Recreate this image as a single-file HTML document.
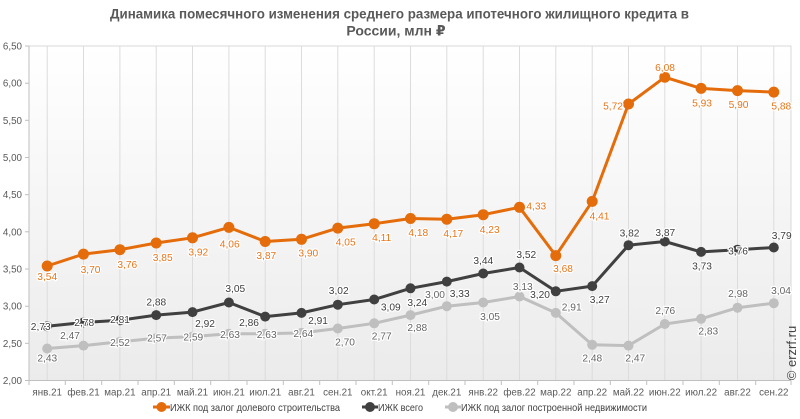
<!DOCTYPE html>
<html><head><meta charset="utf-8">
<style>
html,body{margin:0;padding:0;background:#fff;}
svg{display:block;font-family:"Liberation Sans","DejaVu Sans",sans-serif;}
.ax{font-size:9.8px;fill:#595959;}
.lo{font-size:10.2px;fill:#E8751A;text-anchor:middle;stroke:#fff;stroke-width:2.5px;paint-order:stroke;stroke-linejoin:round;}
.lb{font-size:10.2px;fill:#404040;text-anchor:middle;stroke:#fff;stroke-width:2.5px;paint-order:stroke;stroke-linejoin:round;}
.lg{font-size:10.2px;fill:#666;text-anchor:middle;stroke:#fff;stroke-width:2.5px;paint-order:stroke;stroke-linejoin:round;}
</style></head>
<body>
<svg width="800" height="419" viewBox="0 0 800 419" xmlns="http://www.w3.org/2000/svg">
<defs>
<linearGradient id="bg" x1="0" y1="0" x2="0" y2="1">
<stop offset="0" stop-color="#ffffff"/>
<stop offset="1" stop-color="#ebebeb"/>
</linearGradient>
</defs>
<rect x="0" y="0" width="800" height="419" fill="#fff"/>
<!-- title -->
<text x="399.5" y="18.5" font-size="14" font-weight="bold" fill="#595959" text-anchor="middle" textLength="579" lengthAdjust="spacingAndGlyphs">Динамика помесячного изменения среднего размера ипотечного жилищного кредита в</text>
<text x="396" y="35.5" font-size="14" font-weight="bold" fill="#595959" text-anchor="middle">России, млн ₽</text>

<!-- plot area -->
<rect x="29" y="46" width="762" height="334.5" fill="url(#bg)" stroke="#d9d9d9" stroke-width="1"/>
<!-- vertical grid -->
<g stroke="#dcdcdc" stroke-width="1">
<line x1="47.2" y1="46" x2="47.2" y2="380.5"/>
<line x1="83.5" y1="46" x2="83.5" y2="380.5"/>
<line x1="119.9" y1="46" x2="119.9" y2="380.5"/>
<line x1="156.2" y1="46" x2="156.2" y2="380.5"/>
<line x1="192.5" y1="46" x2="192.5" y2="380.5"/>
<line x1="228.9" y1="46" x2="228.9" y2="380.5"/>
<line x1="265.2" y1="46" x2="265.2" y2="380.5"/>
<line x1="301.5" y1="46" x2="301.5" y2="380.5"/>
<line x1="337.8" y1="46" x2="337.8" y2="380.5"/>
<line x1="374.2" y1="46" x2="374.2" y2="380.5"/>
<line x1="410.5" y1="46" x2="410.5" y2="380.5"/>
<line x1="446.8" y1="46" x2="446.8" y2="380.5"/>
<line x1="483.2" y1="46" x2="483.2" y2="380.5"/>
<line x1="519.5" y1="46" x2="519.5" y2="380.5"/>
<line x1="555.8" y1="46" x2="555.8" y2="380.5"/>
<line x1="592.2" y1="46" x2="592.2" y2="380.5"/>
<line x1="628.5" y1="46" x2="628.5" y2="380.5"/>
<line x1="664.8" y1="46" x2="664.8" y2="380.5"/>
<line x1="701.1" y1="46" x2="701.1" y2="380.5"/>
<line x1="737.5" y1="46" x2="737.5" y2="380.5"/>
<line x1="773.8" y1="46" x2="773.8" y2="380.5"/>
</g>
<!-- axes -->
<g stroke="#bfbfbf" stroke-width="1">
<line x1="29" y1="46" x2="29" y2="380.5"/>
<line x1="29" y1="380.5" x2="791" y2="380.5"/>
<line x1="25" y1="380.5" x2="29" y2="380.5"/>
<line x1="25" y1="343.3" x2="29" y2="343.3"/>
<line x1="25" y1="306.2" x2="29" y2="306.2"/>
<line x1="25" y1="269" x2="29" y2="269"/>
<line x1="25" y1="231.8" x2="29" y2="231.8"/>
<line x1="25" y1="194.7" x2="29" y2="194.7"/>
<line x1="25" y1="157.5" x2="29" y2="157.5"/>
<line x1="25" y1="120.3" x2="29" y2="120.3"/>
<line x1="25" y1="83.2" x2="29" y2="83.2"/>
<line x1="25" y1="46" x2="29" y2="46"/>
<line x1="29" y1="380.5" x2="29" y2="385"/>
<line x1="65.3" y1="380.5" x2="65.3" y2="385"/>
<line x1="101.7" y1="380.5" x2="101.7" y2="385"/>
<line x1="138" y1="380.5" x2="138" y2="385"/>
<line x1="174.3" y1="380.5" x2="174.3" y2="385"/>
<line x1="210.7" y1="380.5" x2="210.7" y2="385"/>
<line x1="247" y1="380.5" x2="247" y2="385"/>
<line x1="283.3" y1="380.5" x2="283.3" y2="385"/>
<line x1="319.7" y1="380.5" x2="319.7" y2="385"/>
<line x1="356" y1="380.5" x2="356" y2="385"/>
<line x1="392.3" y1="380.5" x2="392.3" y2="385"/>
<line x1="428.7" y1="380.5" x2="428.7" y2="385"/>
<line x1="465" y1="380.5" x2="465" y2="385"/>
<line x1="501.3" y1="380.5" x2="501.3" y2="385"/>
<line x1="537.7" y1="380.5" x2="537.7" y2="385"/>
<line x1="574" y1="380.5" x2="574" y2="385"/>
<line x1="610.3" y1="380.5" x2="610.3" y2="385"/>
<line x1="646.7" y1="380.5" x2="646.7" y2="385"/>
<line x1="683" y1="380.5" x2="683" y2="385"/>
<line x1="719.3" y1="380.5" x2="719.3" y2="385"/>
<line x1="755.7" y1="380.5" x2="755.7" y2="385"/>
<line x1="791" y1="380.5" x2="791" y2="385"/>
</g>
<!-- y labels -->
<g class="ax" text-anchor="end">
<text x="22" y="384">2,00</text>
<text x="22" y="346.8">2,50</text>
<text x="22" y="309.7">3,00</text>
<text x="22" y="272.5">3,50</text>
<text x="22" y="235.3">4,00</text>
<text x="22" y="198.2">4,50</text>
<text x="22" y="161">5,00</text>
<text x="22" y="123.8">5,50</text>
<text x="22" y="86.7">6,00</text>
<text x="22" y="49.5">6,50</text>
</g>
<!-- x labels -->
<g class="ax" text-anchor="middle">
<text x="47.2" y="395.5">янв.21</text>
<text x="83.5" y="395.5">фев.21</text>
<text x="119.9" y="395.5">мар.21</text>
<text x="156.2" y="395.5">апр.21</text>
<text x="192.5" y="395.5">май.21</text>
<text x="228.9" y="395.5">июн.21</text>
<text x="265.2" y="395.5">июл.21</text>
<text x="301.5" y="395.5">авг.21</text>
<text x="337.8" y="395.5">сен.21</text>
<text x="374.2" y="395.5">окт.21</text>
<text x="410.5" y="395.5">ноя.21</text>
<text x="446.8" y="395.5">дек.21</text>
<text x="483.2" y="395.5">янв.22</text>
<text x="519.5" y="395.5">фев.22</text>
<text x="555.8" y="395.5">мар.22</text>
<text x="592.2" y="395.5">апр.22</text>
<text x="628.5" y="395.5">май.22</text>
<text x="664.8" y="395.5">июн.22</text>
<text x="701.1" y="395.5">июл.22</text>
<text x="737.5" y="395.5">авг.22</text>
<text x="773.8" y="395.5">сен.22</text>
</g>

<!-- gray series -->
<polyline fill="none" stroke="#BFBFBF" stroke-width="3" stroke-linejoin="round" points="47.2,348.5 83.5,345.6 119.9,341.8 156.2,338.1 192.5,336.6 228.9,333.7 265.2,333.7 301.5,332.9 337.8,328.5 374.2,323.3 410.5,315.1 446.8,306.2 483.2,302.5 519.5,296.5 555.8,312.9 592.2,344.8 628.5,345.6 664.8,324 701.1,318.8 737.5,307.7 773.8,303.2"/>
<g fill="#BFBFBF">
<circle cx="47.2" cy="348.5" r="5"/><circle cx="83.5" cy="345.6" r="5"/><circle cx="119.9" cy="341.8" r="5"/><circle cx="156.2" cy="338.1" r="5"/><circle cx="192.5" cy="336.6" r="5"/><circle cx="228.9" cy="333.7" r="5"/><circle cx="265.2" cy="333.7" r="5"/><circle cx="301.5" cy="332.9" r="5"/><circle cx="337.8" cy="328.5" r="5"/><circle cx="374.2" cy="323.3" r="5"/><circle cx="410.5" cy="315.1" r="5"/><circle cx="446.8" cy="306.2" r="5"/><circle cx="483.2" cy="302.5" r="5"/><circle cx="519.5" cy="296.5" r="5"/><circle cx="555.8" cy="312.9" r="5"/><circle cx="592.2" cy="344.8" r="5"/><circle cx="628.5" cy="345.6" r="5"/><circle cx="664.8" cy="324" r="5"/><circle cx="701.1" cy="318.8" r="5"/><circle cx="737.5" cy="307.7" r="5"/><circle cx="773.8" cy="303.2" r="5"/>
</g>

<!-- black series -->
<polyline fill="none" stroke="#404040" stroke-width="3" stroke-linejoin="round" points="47.2,326.2 83.5,322.5 119.9,320.3 156.2,315.1 192.5,312.1 228.9,302.5 265.2,316.6 301.5,312.9 337.8,304.7 374.2,299.5 410.5,288.3 446.8,281.6 483.2,273.5 519.5,267.5 555.8,291.3 592.2,286.1 628.5,245.2 664.8,241.5 701.1,251.9 737.5,249.7 773.8,247.5"/>
<g fill="#404040">
<circle cx="47.2" cy="326.2" r="5"/><circle cx="83.5" cy="322.5" r="5"/><circle cx="119.9" cy="320.3" r="5"/><circle cx="156.2" cy="315.1" r="5"/><circle cx="192.5" cy="312.1" r="5"/><circle cx="228.9" cy="302.5" r="5"/><circle cx="265.2" cy="316.6" r="5"/><circle cx="301.5" cy="312.9" r="5"/><circle cx="337.8" cy="304.7" r="5"/><circle cx="374.2" cy="299.5" r="5"/><circle cx="410.5" cy="288.3" r="5"/><circle cx="446.8" cy="281.6" r="5"/><circle cx="483.2" cy="273.5" r="5"/><circle cx="519.5" cy="267.5" r="5"/><circle cx="555.8" cy="291.3" r="5"/><circle cx="592.2" cy="286.1" r="5"/><circle cx="628.5" cy="245.2" r="5"/><circle cx="664.8" cy="241.5" r="5"/><circle cx="701.1" cy="251.9" r="5"/><circle cx="737.5" cy="249.7" r="5"/><circle cx="773.8" cy="247.5" r="5"/>
</g>

<!-- orange series -->
<polyline fill="none" stroke="#E46C0A" stroke-width="3" stroke-linejoin="round" points="47.2,266 83.5,254.1 119.9,249.7 156.2,243 192.5,237.8 228.9,227.4 265.2,241.5 301.5,239.3 337.8,228.1 374.2,223.7 410.5,218.5 446.8,219.2 483.2,214.7 519.5,207.3 555.8,255.6 592.2,201.4 628.5,104 664.8,77.2 701.1,88.4 737.5,90.6 773.8,92.1"/>
<g fill="#E46C0A">
<circle cx="47.2" cy="266" r="5.5"/><circle cx="83.5" cy="254.1" r="5.5"/><circle cx="119.9" cy="249.7" r="5.5"/><circle cx="156.2" cy="243" r="5.5"/><circle cx="192.5" cy="237.8" r="5.5"/><circle cx="228.9" cy="227.4" r="5.5"/><circle cx="265.2" cy="241.5" r="5.5"/><circle cx="301.5" cy="239.3" r="5.5"/><circle cx="337.8" cy="228.1" r="5.5"/><circle cx="374.2" cy="223.7" r="5.5"/><circle cx="410.5" cy="218.5" r="5.5"/><circle cx="446.8" cy="219.2" r="5.5"/><circle cx="483.2" cy="214.7" r="5.5"/><circle cx="519.5" cy="207.3" r="5.5"/><circle cx="555.8" cy="255.6" r="5.5"/><circle cx="592.2" cy="201.4" r="5.5"/><circle cx="628.5" cy="104" r="5.5"/><circle cx="664.8" cy="77.2" r="5.5"/><circle cx="701.1" cy="88.4" r="5.5"/><circle cx="737.5" cy="90.6" r="5.5"/><circle cx="773.8" cy="92.1" r="5.5"/>
</g>

<!-- gray labels -->
<g class="lg">
<text x="47.3" y="361.5">2,43</text>
<text x="70" y="338.8">2,47</text>
<text x="120" y="346">2,52</text>
<text x="157" y="341.5">2,57</text>
<text x="193.3" y="340.5">2,59</text>
<text x="230" y="337.8">2,63</text>
<text x="266.7" y="337.8">2,63</text>
<text x="303.3" y="337">2,64</text>
<text x="345" y="345.5">2,70</text>
<text x="381.7" y="339.5">2,77</text>
<text x="417.3" y="331">2,88</text>
<text x="435" y="297.8">3,00</text>
<text x="490" y="319.8">3,05</text>
<text x="522.8" y="289.8">3,13</text>
<text x="571.7" y="310.5">2,91</text>
<text x="592.3" y="361.5">2,48</text>
<text x="635.3" y="361.5">2,47</text>
<text x="665.3" y="313.8">2,76</text>
<text x="708.3" y="334.5">2,83</text>
<text x="738" y="297">2,98</text>
<text x="781" y="293.8">3,04</text>
</g>

<!-- black labels -->
<g class="lb">
<text x="40.7" y="329.8">2,73</text>
<text x="84.2" y="326">2,78</text>
<text x="120" y="323">2,81</text>
<text x="156.3" y="305.5">2,88</text>
<text x="205" y="327">2,92</text>
<text x="235.3" y="292">3,05</text>
<text x="249" y="326">2,86</text>
<text x="318" y="323.8">2,91</text>
<text x="338.7" y="293.8">3,02</text>
<text x="390.8" y="310.5">3,09</text>
<text x="417.3" y="306">3,24</text>
<text x="459.7" y="297">3,33</text>
<text x="483.3" y="263.8">3,44</text>
<text x="526.3" y="257.8">3,52</text>
<text x="540" y="297.8">3,20</text>
<text x="599.7" y="302.8">3,27</text>
<text x="629.5" y="236.5">3,82</text>
<text x="665.3" y="235.8">3,87</text>
<text x="702" y="269.5">3,73</text>
<text x="738" y="254.5">3,76</text>
<text x="781.7" y="238.8">3,79</text>
</g>

<!-- orange labels -->
<g class="lo">
<text x="47.2" y="279.8">3,54</text>
<text x="90.5" y="272.8">3,70</text>
<text x="127.3" y="267.8">3,76</text>
<text x="162.7" y="260.8">3,85</text>
<text x="198.3" y="255.5">3,92</text>
<text x="229.7" y="247.5">4,06</text>
<text x="266.3" y="258.8">3,87</text>
<text x="308.3" y="256.5">3,90</text>
<text x="345.7" y="245.5">4,05</text>
<text x="381.7" y="241">4,11</text>
<text x="418.3" y="236">4,18</text>
<text x="453.3" y="237">4,17</text>
<text x="489.7" y="232.8">4,23</text>
<text x="536.3" y="209.5">4,33</text>
<text x="563" y="272">3,68</text>
<text x="599.5" y="219.5">4,41</text>
<text x="613" y="109.5">5,72</text>
<text x="665" y="71">6,08</text>
<text x="702" y="106.5">5,93</text>
<text x="738.5" y="108">5,90</text>
<text x="781.3" y="109.5">5,88</text>
</g>

<!-- watermark -->
<text transform="translate(796,353) rotate(-90)" font-size="13" fill="#444" text-anchor="middle">© erzrf.ru</text>

<!-- legend -->
<g>
<line x1="153" y1="407" x2="170" y2="407" stroke="#E46C0A" stroke-width="3"/>
<circle cx="161.5" cy="407" r="5" fill="#E46C0A"/>
<text x="170" y="411" font-size="10.5" fill="#404040" textLength="170" lengthAdjust="spacingAndGlyphs">ИЖК под залог долевого строительства</text>
<line x1="362" y1="407" x2="378" y2="407" stroke="#404040" stroke-width="3"/>
<circle cx="370" cy="407" r="5" fill="#404040"/>
<text x="378" y="411" font-size="10.5" fill="#404040" textLength="45" lengthAdjust="spacingAndGlyphs">ИЖК всего</text>
<line x1="445" y1="407" x2="461" y2="407" stroke="#BFBFBF" stroke-width="3"/>
<circle cx="453" cy="407" r="5" fill="#BFBFBF"/>
<text x="461" y="411" font-size="10.5" fill="#404040" textLength="186" lengthAdjust="spacingAndGlyphs">ИЖК под залог построенной недвижимости</text>
</g>
</svg>
</body></html>
